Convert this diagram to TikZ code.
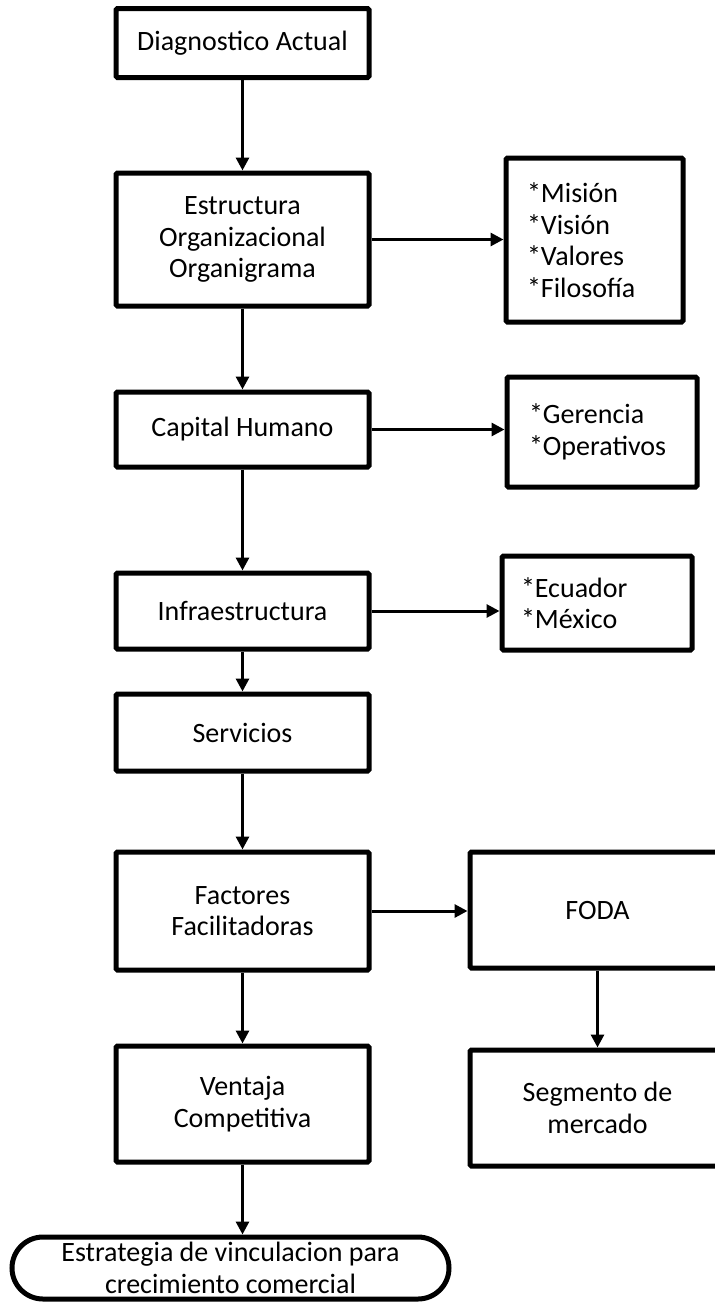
\documentclass[tikz,border=0pt]{standalone}
\usepackage{fontspec}
\setmainfont{Carlito}
\usetikzlibrary{arrows.meta}
\begin{document}
\begin{tikzpicture}[x=1pt,y=-1pt,
  font=\fontsize{28}{31.5}\selectfont,
  stepbox/.style={draw, line width=5pt, rounded corners=1.5pt, align=center,
    inner sep=0pt, minimum width=253pt},
  listbox/.style={draw, line width=5pt, rounded corners=1.5pt, align=left,
    inner ysep=0pt, execute at begin node={\hyphenpenalty=10000 }},
  flow/.style={line width=3pt, -{Triangle[length=13pt,width=13pt]}}]
\useasboundingbox (0,0) rectangle (715,1302);
\clip (0,0) rectangle (715,1302);

% main column
\node[stepbox, minimum height=69pt]  (diag)  at (242.5,43)    {Diagnostico Actual};
\node[stepbox, minimum height=133pt] (estr)  at (242.5,239.5) {Estructura\\Organizacional\\Organigrama};
\node[stepbox, minimum height=75pt]  (cap)   at (242.5,429.5) {Capital Humano};
\node[stepbox, minimum height=76pt]  (infra) at (242.5,611)   {Infraestructura};
\node[stepbox, minimum height=77pt]  (serv)  at (242.5,732.5) {Servicios};
\node[stepbox, minimum height=118pt] (fact)  at (242.5,911)   {Factores\\Facilitadoras};
\node[stepbox, minimum height=116pt] (vent)  at (242.5,1104)  {Ventaja\\Competitiva};
\node[draw, line width=5pt, rounded corners=31pt, inner sep=0pt, minimum width=437pt,
      minimum height=62pt, align=center] (goal) at (230.5,1268)
      {Estrategia de vinculacion para\\crecimiento comercial};

% side boxes
\node[listbox, text width=135pt, inner xsep=21pt, minimum height=164pt] (mis) at (594.5,240)
      {{*}Misión\\{*}Visión\\{*}Valores\\{*}Filosofía};
\node[listbox, text width=146pt, inner xsep=22pt, minimum height=110pt] (ger) at (602,432)
      {{*}Gerencia\\{*}Operativos};
\node[listbox, text width=152pt, inner xsep=19pt, minimum height=94pt] (ecu) at (597,603)
      {{*}Ecuador\\{*}México};
\node[stepbox, minimum width=255pt, minimum height=116pt] (foda) at (597.5,910) {FODA};
\node[stepbox, minimum width=255pt, minimum height=116pt] (seg)  at (597.5,1108) {Segmento de\\mercado};

% connectors
\draw[flow] (diag.south)  -- (estr.north);
\draw[flow] (estr.south)  -- (cap.north);
\draw[flow] (cap.south)   -- (infra.north);
\draw[flow] (infra.south) -- (serv.north);
\draw[flow] (serv.south)  -- (fact.north);
\draw[flow] (fact.south)  -- (vent.north);
\draw[flow] (vent.south)  -- (vent.south |- goal.north);
\draw[flow] (estr.east)   -- (estr.east -| mis.west);
\draw[flow] (cap.east)    -- (cap.east -| ger.west);
\draw[flow] (infra.east)  -- (infra.east -| ecu.west);
\draw[flow] (fact.east)   -- (fact.east -| foda.west);
\draw[flow] (foda.south)  -- (seg.north);
\end{tikzpicture}
\end{document}
